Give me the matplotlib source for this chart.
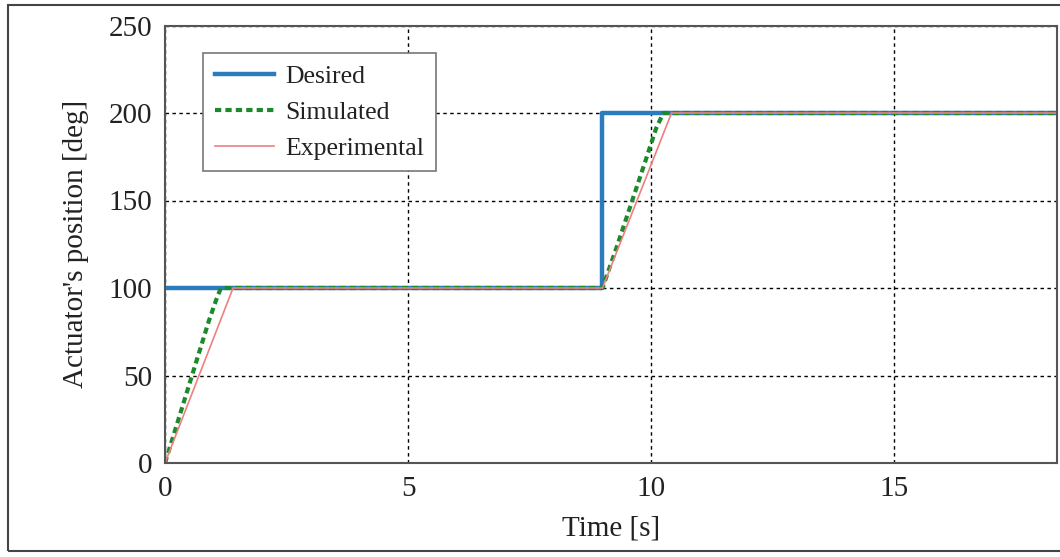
import matplotlib.pyplot as plt
from matplotlib.patches import Rectangle

# step reference and responses (time in s, position in deg)
t_desired = [0, 9, 9, 18.4]
pos_desired = [100, 100, 200, 200]

t_sim = [0, 0.3, 0.6, 0.9, 1.05, 1.15, 9.0, 9.3, 9.6, 9.9, 10.1, 10.25, 18.4]
pos_sim = [0, 27, 54, 81, 93, 100, 100, 124, 149, 174, 191, 200, 200]

t_exp = [0, 1.4, 9.0, 10.42, 18.4]
pos_exp = [0, 100, 100, 200, 200]

plt.rcParams['font.family'] = ['Liberation Serif', 'DejaVu Serif']

fig = plt.figure(figsize=(10.6, 5.57), dpi=100)
ax = fig.add_axes([165/1060, 1-463/557, 892/1060, 437.5/557])

ax.plot(t_desired, pos_desired, color='#2b7bbf', lw=3.2, label='Desired', zorder=3)
ax.plot(t_sim, pos_sim, color='#1c8a2a', lw=3, ls=(0, (1.5, 1)), label='Simulated', zorder=4)
ax.plot(t_exp, pos_exp, color='#ee8080', lw=1.2, label='Experimental', zorder=5)

ax.set_xlim(0, 18.35)
ax.set_ylim(0, 250)
ax.set_xticks([0, 5, 10, 15])
ax.set_yticks([0, 50, 100, 150, 200, 250])
ax.grid(True, color='black', ls=(0, (2.5, 2.5)), lw=1)
ax.tick_params(length=0, labelsize=21, pad=9, colors='#222222')
for s in ax.spines.values():
    s.set_color('#555555')
    s.set_linewidth(1.5)
    s.set_zorder(6)

ax.set_xlabel('Time [s]', fontsize=21, labelpad=10, color='#222222')
ax.set_ylabel("Actuator's position [deg]", fontsize=21, labelpad=14, color='#222222')

leg = ax.legend(loc='upper left', bbox_to_anchor=(0.0426, 0.937), fontsize=18.5,
                fancybox=False, edgecolor='#777777', framealpha=1,
                handlelength=2.3, borderpad=0.45, labelspacing=0.51,
                handletextpad=0.45, borderaxespad=0)
leg.get_frame().set_linewidth(1.2)
for t in leg.get_texts():
    t.set_color('#222222')

# outer frame around the figure
fig.patches.append(Rectangle((8/1060, 1-551/557), 1.05, 546/557,
                             transform=fig.transFigure, fill=False,
                             edgecolor='#444444', lw=1.5))

fig.savefig('out.png', dpi=100)
